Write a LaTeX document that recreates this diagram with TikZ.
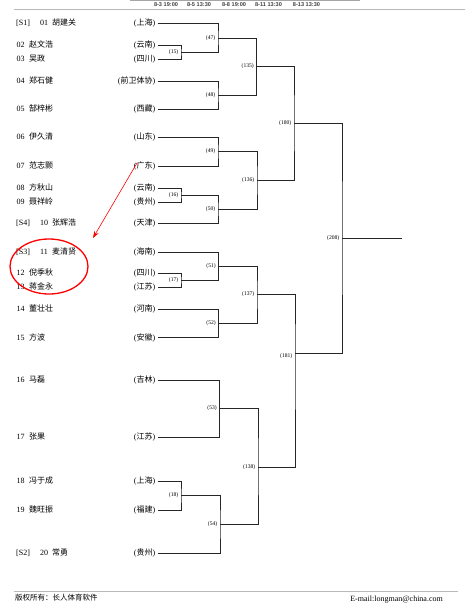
\documentclass[tikz,border=0pt]{standalone}
\usepackage{fontspec}
\setmainfont{Liberation Serif}
\newfontfamily\cjk{Noto Sans CJK SC}
\newfontfamily\hdrfont{Liberation Sans}
\usetikzlibrary{arrows.meta}
\tikzset{
  txt/.style={font=\fontsize{8}{9}\selectfont, inner sep=0pt, text height=6.5pt, text depth=1.5pt},
  prov/.style={txt, anchor=east, inner xsep=2pt},
  lab/.style={font=\fontsize{5.6}{6}\selectfont, inner sep=0pt, anchor=east, xshift=-2.5pt},
  br/.style={line width=0.8pt, black!85},
  hdr/.style={font=\hdrfont\bfseries\fontsize{5.6}{6}\selectfont, inner sep=0pt, text=black!75},
}
% unseeded: id, y, number, name, province
\newcommand{\plru}[5]{%
  \node[txt, anchor=west] (k#1) at (16.5,#2) {#3};
  \node[txt, anchor=west] (n#1) at (29,#2) {\cjk #4};
  \node[prov] (p#1) at (157.5,#2) {({\cjk #5})};}
% seeded: id, y, seed, number, name, province
\newcommand{\plrs}[6]{%
  \node[txt, anchor=west] (s#1) at (16,#2) {[#3]};
  \node[txt, anchor=west] (k#1) at (40,#2) {#4};
  \node[txt, anchor=west] (n#1) at (52,#2) {\cjk #5};
  \node[prov] (p#1) at (157.5,#2) {({\cjk #6})};}
\begin{document}
\begin{tikzpicture}[x=1pt,y=-1pt]
\useasboundingbox (0,0) rectangle (471,609);
\fill[white] (0,0) rectangle (471,609);

% header
\draw[gray!70, line width=1pt] (130,0.8) -- (360,0.8);
\draw[gray!55, line width=0.5pt] (14,9.5) -- (465,9.5);
\node[hdr] (d1) at (166,5) {8-3 19:00};
\node[hdr] (d2) at (199,5) {8-5 13:30};
\node[hdr] (d3) at (234,5) {8-8 19:00};
\node[hdr] (d4) at (268.5,5) {8-11 13:30};
\node[hdr] (d5) at (306.5,5) {8-13 13:30};

% players
\plrs{1}{23}{S1}{01}{胡建关}{上海}
\plru{2}{45}{02}{赵文浩}{云南}
\plru{3}{59}{03}{吴政}{四川}
\plru{4}{81}{04}{郑石健}{前卫体协}
\plru{5}{109.5}{05}{郜梓彬}{西藏}
\plru{6}{137}{06}{伊久清}{山东}
\plru{7}{166}{07}{范志颢}{广东}
\plru{8}{188}{08}{方秋山}{云南}
\plru{9}{202}{09}{聂祥岭}{贵州}
\plrs{10}{223}{S4}{10}{张辉浩}{天津}
\plrs{11}{252}{S3}{11}{麦清贤}{海南}
\plru{12}{273}{12}{倪季秋}{四川}
\plru{13}{287}{13}{蒋金永}{江苏}
\plru{14}{309}{14}{董壮壮}{河南}
\plru{15}{337.5}{15}{方波}{安徽}
\plru{16}{380}{16}{马磊}{吉林}
\plru{17}{437}{17}{张果}{江苏}
\plru{18}{481}{18}{冯于成}{上海}
\plru{19}{510}{19}{魏旺振}{福建}
\plrs{20}{553}{S2}{20}{常勇}{贵州}

% junctions
\coordinate (j15) at (181,52);
\coordinate (j47) at (218,38);
\coordinate (j48) at (218,95);
\coordinate (j135) at (256.5,66.5);
\coordinate (j49) at (218,151.5);
\coordinate (j16) at (181,195);
\coordinate (j50) at (218,209);
\coordinate (j136) at (257,180.5);
\coordinate (j180) at (294,123);
\coordinate (j17) at (181,280);
\coordinate (j51) at (218.5,266);
\coordinate (j52) at (218.5,323);
\coordinate (j137) at (257,294.5);
\coordinate (j53) at (219.5,408.5);
\coordinate (j18) at (181,495.5);
\coordinate (j54) at (220,524.5);
\coordinate (j138) at (258,467);
\coordinate (j181) at (295,353);
\coordinate (j208) at (342,238);
\coordinate (fin) at (402,238);

% brackets
\draw[br] (p2.east) -| (j15) |- (p3.east);
\draw[br] (p1.east) -| (j47) |- (j15);
\draw[br] (p4.east) -| (j48) |- (p5.east);
\draw[br] (j47) -| (j135) |- (j48);
\draw[br] (p6.east) -| (j49) |- (p7.east);
\draw[br] (p8.east) -| (j16) |- (p9.east);
\draw[br] (j16) -| (j50) |- (p10.east);
\draw[br] (j49) -| (j136) |- (j50);
\draw[br] (j135) -| (j180) |- (j136);
\draw[br] (p12.east) -| (j17) |- (p13.east);
\draw[br] (p11.east) -| (j51) |- (j17);
\draw[br] (p14.east) -| (j52) |- (p15.east);
\draw[br] (j51) -| (j137) |- (j52);
\draw[br] (p16.east) -| (j53) |- (p17.east);
\draw[br] (p18.east) -| (j18) |- (p19.east);
\draw[br] (j18) -| (j54) |- (p20.east);
\draw[br] (j53) -| (j138) |- (j54);
\draw[br] (j137) -| (j181) |- (j138);
\draw[br] (j180) -| (j208) |- (j181);
\draw[br] (j208) -- (fin);

% match labels
\node[lab] (l15) at (j15) {(15)};
\node[lab] (l47) at (j47) {(47)};
\node[lab] (l48) at (j48) {(48)};
\node[lab] (l135) at (j135) {(135)};
\node[lab] (l49) at (j49) {(49)};
\node[lab] (l16) at (j16) {(16)};
\node[lab] (l50) at (j50) {(50)};
\node[lab] (l136) at (j136) {(136)};
\node[lab] (l180) at (j180) {(180)};
\node[lab] (l17) at (j17) {(17)};
\node[lab] (l51) at (j51) {(51)};
\node[lab] (l52) at (j52) {(52)};
\node[lab] (l137) at (j137) {(137)};
\node[lab] (l53) at (j53) {(53)};
\node[lab] (l18) at (j18) {(18)};
\node[lab] (l54) at (j54) {(54)};
\node[lab] (l138) at (j138) {(138)};
\node[lab] (l181) at ([yshift=-3pt]j181) {(181)};
\node[lab] (l208) at (j208) {(208)};

% red annotation
\draw[red, line width=1.3pt] (49,266.5) ellipse [x radius=39pt, y radius=27.5pt];
\coordinate (a0) at (137,163);
\coordinate (a1) at (93,238);
\draw[red, line width=0.6pt, -{Stealth[length=7pt,width=5pt]}] (a0) -- (a1);

% footer
\draw[gray!55, line width=0.5pt] (14,591) -- (458,591);
\node[anchor=west, inner sep=0pt, font=\fontsize{7.5}{8}\selectfont] (cr) at (15,597.5) {\cjk 版权所有：长人体育软件};
\node[anchor=east, inner sep=0pt, font=\fontsize{8}{9}\selectfont] (em) at (443,600) {E-mail:longman@china.com};
\end{tikzpicture}
\end{document}
